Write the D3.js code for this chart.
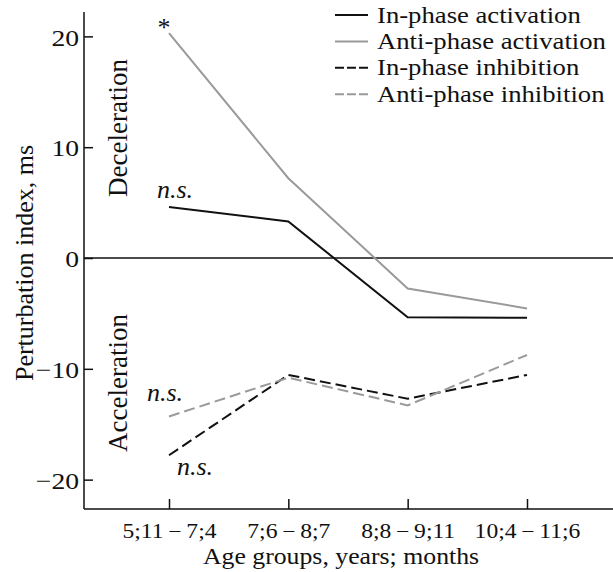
<!DOCTYPE html>
<html>
<head>
<meta charset="utf-8">
<script src="https://cdn.jsdelivr.net/npm/d3@7"></script>
<style>
	body { margin: 0; background: #fff; }
	svg text { font-family: "Liberation Serif", "Times New Roman", serif; fill: #111; }
</style>
</head>
<body>
<div id="root"></div>
<script>

// Age groups (x categories)
const ageGroups = ["5;11\u2009\u2212\u20097;4", "7;6\u2009\u2212\u20098;7", "8;8\u2009\u2212\u20099;11", "10;4\u2009\u2212\u200911;6"];

// Perturbation index, ms
const inPhaseActivation = [4.6, 3.3, -5.35, -5.4];
const antiPhaseActivation = [20.3, 7.2, -2.75, -4.55];
const inPhaseInhibition = [-17.8, -10.55, -12.7, -10.55];
const antiPhaseInhibition = [-14.3, -10.8, -13.3, -8.75];

const yTicks = [-20, -10, 0, 10, 20];

const seriesNames = ["In-phase activation", "Anti-phase activation", "In-phase inhibition", "Anti-phase inhibition"];

function whenDocumentLoaded(action) {
	if (document.readyState === "loading") {
		document.addEventListener("DOMContentLoaded", action);
	} else {
		action();
	}
}

// the printed figure is a bit wider than plain Times, so widen glyphs
function stretch(sel, factor) {
	sel.each(function() {
		const w = this.getComputedTextLength();
		d3.select(this)
			.attr("textLength", w * factor)
			.attr("lengthAdjust", "spacingAndGlyphs");
	});
}

function drawChart() {
	const width = 613;
	const height = 572;
	const margin = {top: 12, right: 0, bottom: 63, left: 84};
	const serif = "'Liberation Serif', 'Times New Roman', serif";

	const svg = d3.select("#root")
		.append("svg")
		.attr("width", width)
		.attr("height", height);

	const x = d3.scalePoint()
		.domain(ageGroups)
		.range([169, 527]);

	const y = d3.scaleLinear()
		.domain([-22.65, 22.2])
		.range([height - margin.bottom, margin.top]);

	// zero line
	svg.append("line")
		.attr("x1", margin.left)
		.attr("x2", width)
		.attr("y1", y(0))
		.attr("y2", y(0))
		.attr("stroke", "#111")
		.attr("stroke-width", 1.3);

	// y axis, ticks pointing inward
	const yAxis = svg.append("g")
		.attr("class", "axis")
		.attr("transform", "translate(" + margin.left + ",0)")
		.call(d3.axisRight(y).tickValues(yTicks).tickSize(9).tickSizeOuter(0)
			.tickFormat(d => d < 0 ? "\u2212" + Math.abs(d) : d));
	yAxis.select(".domain").remove();
	yAxis.selectAll(".tick line").attr("stroke", "#111").attr("stroke-width", 1.5);
	yAxis.append("line")
		.attr("x1", 0).attr("x2", 0)
		.attr("y1", margin.top).attr("y2", height - margin.bottom)
		.attr("stroke", "#111").attr("stroke-width", 1.5);
	yAxis.selectAll(".tick text")
		.attr("x", -5)
		.attr("dy", "0.36em")
		.attr("text-anchor", "end")
		.style("font-family", serif)
		.style("font-size", "24px")
		.attr("fill", "#111")
		.call(stretch, 1.15);

	// x axis, ticks pointing up
	const xAxis = svg.append("g")
		.attr("class", "axis")
		.attr("transform", "translate(0," + (height - margin.bottom) + ")")
		.call(d3.axisTop(x).tickSize(10).tickSizeOuter(0));
	xAxis.select(".domain").remove();
	xAxis.selectAll(".tick line").attr("stroke", "#111").attr("stroke-width", 1.5);
	xAxis.append("line")
		.attr("x1", margin.left).attr("x2", width)
		.attr("y1", 0).attr("y2", 0)
		.attr("stroke", "#111").attr("stroke-width", 1.5);
	xAxis.selectAll(".tick text")
		.attr("y", 29)
		.attr("dy", 0)
		.style("font-family", serif)
		.style("font-size", "20px")
		.attr("fill", "#111")
		.call(stretch, 1.18);

	// axis titles
	svg.append("text")
		.attr("x", 341)
		.attr("y", 564)
		.attr("text-anchor", "middle")
		.style("font-size", "23px")
		.text("Age groups, years; months")
		.call(stretch, 1.12);

	svg.append("text")
		.attr("transform", "translate(33,263) rotate(-90)")
		.attr("text-anchor", "middle")
		.style("font-size", "26px")
		.text("Perturbation index, ms");

	svg.append("text")
		.attr("transform", "translate(127,128) rotate(-90)")
		.attr("text-anchor", "middle")
		.style("font-size", "27px")
		.text("Deceleration");

	svg.append("text")
		.attr("transform", "translate(127,383) rotate(-90)")
		.attr("text-anchor", "middle")
		.style("font-size", "27px")
		.text("Acceleration");

	// series lines
	const series = [
		{values: inPhaseActivation, color: "#111", dash: null},
		{values: antiPhaseActivation, color: "#9a9a9a", dash: null},
		{values: inPhaseInhibition, color: "#111", dash: "11,5"},
		{values: antiPhaseInhibition, color: "#9a9a9a", dash: "11,5"}
	];

	const line = d3.line()
		.x((d, i) => x(ageGroups[i]))
		.y(d => y(d));

	svg.selectAll(".series")
		.data(series)
		.enter()
		.append("path")
		.attr("class", "series")
		.attr("d", d => line(d.values))
		.attr("fill", "none")
		.attr("stroke", d => d.color)
		.attr("stroke-width", 2)
		.attr("stroke-dasharray", d => d.dash);

	// significance marks
	svg.append("text")
		.attr("x", 164)
		.attr("y", 36)
		.attr("text-anchor", "middle")
		.style("font-size", "26px")
		.text("*");

	const nsLabels = [[157, 198], [147, 401], [177, 475]];
	svg.selectAll(".ns")
		.data(nsLabels)
		.enter()
		.append("text")
		.attr("class", "ns")
		.attr("x", d => d[0])
		.attr("y", d => d[1])
		.style("font-size", "26px")
		.style("font-style", "italic")
		.text("n.s.");

	// legend
	const legend = svg.append("g")
		.attr("class", "legend")
		.attr("transform", "translate(335,15)");

	const rows = legend.selectAll(".row")
		.data(series)
		.enter()
		.append("g")
		.attr("class", "row")
		.attr("transform", (d, i) => "translate(0," + (i * 26.4) + ")");

	rows.append("line")
		.attr("x1", 0).attr("x2", 33)
		.attr("y1", 0).attr("y2", 0)
		.attr("stroke", d => d.color)
		.attr("stroke-width", 2)
		.attr("stroke-dasharray", d => d.dash ? "9,3" : null);

	rows.append("text")
		.attr("x", 42)
		.attr("dy", "0.33em")
		.style("font-size", "23px")
		.text((d, i) => seriesNames[i])
		.call(stretch, 1.16);
}

whenDocumentLoaded(drawChart);
</script>
</body>
</html>
